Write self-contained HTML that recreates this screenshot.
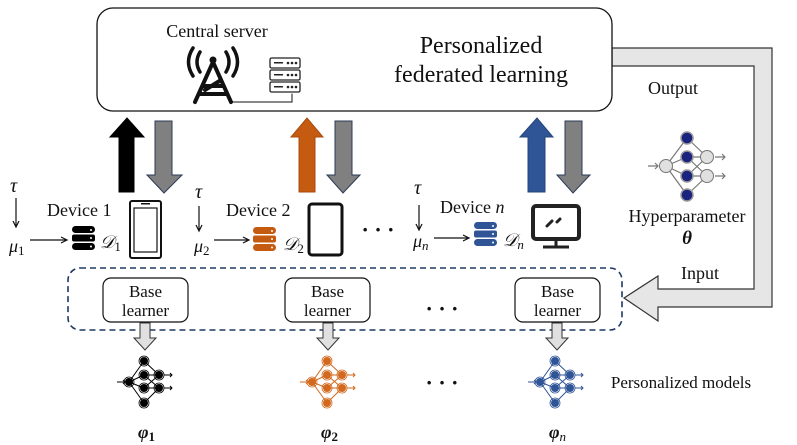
<!DOCTYPE html>
<html><head><meta charset="utf-8"><style>
html,body{margin:0;padding:0;background:#fff}
svg{display:block}
text{font-family:"Liberation Serif",serif;fill:#111}
</style></head><body>
<svg width="797" height="445" viewBox="0 0 797 445" xmlns="http://www.w3.org/2000/svg">
<defs>
<g id="nnh">
 <g stroke="#777" stroke-width="1.2" fill="none">
  <line x1="666" y1="166" x2="687" y2="138"/><line x1="666" y1="166" x2="687" y2="157"/><line x1="666" y1="166" x2="687" y2="176"/><line x1="666" y1="166" x2="687" y2="195"/>
  <line x1="687" y1="138" x2="707" y2="157"/><line x1="687" y1="157" x2="707" y2="157"/><line x1="687" y1="157" x2="707" y2="176"/><line x1="687" y1="176" x2="707" y2="157"/><line x1="687" y1="176" x2="707" y2="176"/><line x1="687" y1="195" x2="707" y2="176"/>
  <path d="M648 166h10M655 163l3 3-3 3M715 157h10M722 154l3 3-3 3M715 176h10M722 173l3 3-3 3"/>
 </g>
 <circle cx="666" cy="166" r="6.5" fill="#e0e0e0" stroke="#777"/>
 <circle cx="707" cy="157" r="6.5" fill="#e0e0e0" stroke="#777"/>
 <circle cx="707" cy="176" r="6.5" fill="#e0e0e0" stroke="#777"/>
 <g fill="#1a237e" stroke="#999" stroke-width="1.5">
 <circle cx="687" cy="138" r="6"/><circle cx="687" cy="157" r="6"/><circle cx="687" cy="176" r="6"/><circle cx="687" cy="195" r="6"/></g>
</g>
<g id="nns">
 <g stroke="currentColor" stroke-width="1" fill="none">
  <path d="M129 382L144 361M129 382L144 375M129 382L144 388M129 382L144 403M144 361L159 375M144 375L159 375M144 375L159 388M144 388L159 375M144 388L159 388M144 403L159 388"/>
  <path d="M117 382h8M123 380l2 2-2 2M164 375h8M170 373l2 2-2 2M164 388h8M170 386l2 2-2 2"/>
 </g>
 <g fill="currentColor" stroke="currentColor" stroke-width="1"><circle cx="129" cy="382" r="3.5"/><circle cx="144" cy="361" r="3.5"/><circle cx="144" cy="375" r="3.5"/><circle cx="144" cy="388" r="3.5"/><circle cx="144" cy="403" r="3.5"/><circle cx="159" cy="375" r="3.5"/><circle cx="159" cy="388" r="3.5"/></g>
 <g fill="none" stroke="currentColor" stroke-width="0.8"><circle cx="129" cy="382" r="5"/><circle cx="144" cy="361" r="5"/><circle cx="144" cy="375" r="5"/><circle cx="144" cy="388" r="5"/><circle cx="144" cy="403" r="5"/><circle cx="159" cy="375" r="5"/><circle cx="159" cy="388" r="5"/></g>
</g>
<g id="db">
 <rect x="0" y="0" width="23" height="7" rx="3.5"/><rect x="0" y="8.5" width="23" height="7" rx="2"/><rect x="0" y="17" width="23" height="7" rx="3.5"/>
 <g fill="#fff"><circle cx="19" cy="4" r="1"/><circle cx="19" cy="12" r="1"/><circle cx="19" cy="20.5" r="1"/></g>
</g>
</defs>

<path d="M612 48H772V307H658V321L624 298L658 276V289H754V66H612Z" fill="#e6e6e6" stroke="#333" stroke-width="1.2"/>
<rect x="97" y="8" width="515" height="103" rx="16" fill="#fff" stroke="#111" stroke-width="1.3"/>
<text x="217" y="37" font-size="18" text-anchor="middle">Central server</text>
<text x="481" y="53" font-size="24" text-anchor="middle">Personalized</text>
<text x="481" y="82" font-size="24" text-anchor="middle">federated learning</text>
<g stroke="#111" fill="none" stroke-linecap="round">
 <path d="M195 102L213 62L231 102M203 86L223 86M200 94L226 94M205 90L221 80" stroke-width="4"/>
 <path d="M200 52q-6 10 0 20M193 48q-9 14 0 28M226 52q6 10 0 20M233 48q9 14 0 28" stroke-width="3.5"/>
 <circle cx="213" cy="60" r="3" fill="#111"/>
 <path d="M232 102H292V94" stroke-width="1"/>
</g>
<g stroke="#222" stroke-width="1.3" fill="#fff">
 <rect x="270" y="58" width="30" height="10" rx="1.5"/><rect x="270" y="70" width="30" height="10" rx="1.5"/><rect x="270" y="82" width="30" height="10" rx="1.5"/>
</g>
<g fill="#222"><rect x="274" y="62" width="9" height="1.5"/><rect x="274" y="74" width="9" height="1.5"/><rect x="274" y="86" width="9" height="1.5"/>
<circle cx="288" cy="63" r="1.3"/><circle cx="292" cy="63" r="1.3"/><circle cx="296" cy="63" r="1.3"/>
<circle cx="288" cy="75" r="1.3"/><circle cx="292" cy="75" r="1.3"/><circle cx="296" cy="75" r="1.3"/>
<circle cx="288" cy="87" r="1.3"/><circle cx="292" cy="87" r="1.3"/><circle cx="296" cy="87" r="1.3"/></g>

<path d="M119 192V137H110L127 118L144 137H134V192Z" fill="#000" stroke="#000"/>
<path d="M155 121H172V175H182L164 193L147 175H155Z" fill="#808080" stroke="#2b3a55"/>
<path d="M299 192V137H291L307 118L323 137H315V192Z" fill="#c55a11" stroke="#a84a0c"/>
<path d="M335 121H352V175H360L343 193L327 175H335Z" fill="#808080" stroke="#2b3a55"/>
<path d="M528 192V137H520L537 118L553 137H545V192Z" fill="#2f5597" stroke="#24457a"/>
<path d="M565 121H582V175H590L573 193L557 175H565Z" fill="#808080" stroke="#2b3a55"/>

<text x="10" y="192" font-size="20" font-style="italic">τ</text>
<path d="M16 198V226M13 221l3 6 3-6" stroke="#111" fill="none" stroke-width="1.2"/>
<text x="9" y="252" font-size="18" font-style="italic">μ<tspan font-size="13" dy="3" font-style="normal">1</tspan></text>
<path d="M30 240H66M61 237l6 3-6 3" stroke="#111" fill="none" stroke-width="1.2"/>
<text x="47" y="216" font-size="18">Device 1</text>
<use href="#db" x="72" y="226" fill="#000"/>
<text x="100" y="248" font-size="18" font-style="italic">𝒟<tspan font-size="13" dy="3" font-style="normal">1</tspan></text>
<rect x="130" y="201" width="31" height="57" rx="2" fill="none" stroke="#111" stroke-width="2"/>
<rect x="134" y="208" width="23" height="44" fill="none" stroke="#111" stroke-width="1.2"/>
<rect x="141" y="203" width="9" height="1.5" fill="#111"/>

<text x="195" y="198" font-size="20" font-style="italic">τ</text>
<path d="M199 206V230M196 225l3 6 3-6" stroke="#111" fill="none" stroke-width="1.2"/>
<text x="194" y="252" font-size="18" font-style="italic">μ<tspan font-size="13" dy="3" font-style="normal">2</tspan></text>
<path d="M214 240H248M243 237l6 3-6 3" stroke="#111" fill="none" stroke-width="1.2"/>
<text x="226" y="216" font-size="18">Device 2</text>
<use href="#db" x="253" y="227" fill="#c55a11"/>
<text x="283" y="250" font-size="18" font-style="italic">𝒟<tspan font-size="13" dy="3" font-style="normal">2</tspan></text>
<rect x="309" y="204" width="33" height="51" rx="3" fill="none" stroke="#111" stroke-width="3"/>
<circle cx="325.5" cy="252" r="1.3" fill="#fff"/>
<text x="378" y="237" font-size="22" font-weight="bold" text-anchor="middle">· · ·</text>

<text x="414" y="194" font-size="20" font-style="italic">τ</text>
<path d="M419 205V229M416 224l3 6 3-6" stroke="#111" fill="none" stroke-width="1.2"/>
<text x="413" y="247" font-size="18" font-style="italic">μ<tspan font-size="13" dy="3">n</tspan></text>
<path d="M434 238H468M463 235l6 3-6 3" stroke="#111" fill="none" stroke-width="1.2"/>
<text x="440" y="213" font-size="18">Device <tspan font-style="italic">n</tspan></text>
<use href="#db" x="474" y="222" fill="#2f5597"/>
<text x="503" y="246" font-size="18" font-style="italic">𝒟<tspan font-size="13" dy="3">n</tspan></text>
<rect x="533" y="206" width="46" height="33" rx="3" fill="none" stroke="#222" stroke-width="4"/>
<path d="M556 239V246M543 247H569" stroke="#222" stroke-width="3"/>
<path d="M547 226l5-5M557 222l3-3" stroke="#222" stroke-width="3" stroke-linecap="round"/>

<use href="#nnh"/>
<text x="673" y="94" font-size="18" text-anchor="middle">Output</text>
<text x="687" y="222" font-size="18" text-anchor="middle">Hyperparameter</text>
<text x="687" y="244" font-size="19" font-weight="bold" font-style="italic" text-anchor="middle">θ</text>
<text x="700" y="279" font-size="18" text-anchor="middle">Input</text>

<rect x="68" y="268" width="554" height="62" rx="12" fill="none" stroke="#1f3864" stroke-width="1.6" stroke-dasharray="6,4"/>
<g fill="#fff" stroke="#111" stroke-width="1.2">
 <rect x="103" y="278" width="85" height="44" rx="8"/><rect x="285" y="278" width="85" height="44" rx="8"/><rect x="515" y="278" width="85" height="44" rx="8"/>
</g>
<g font-size="17" text-anchor="middle">
 <text x="145.5" y="297">Base</text><text x="145.5" y="316">learner</text>
 <text x="327.5" y="297">Base</text><text x="327.5" y="316">learner</text>
 <text x="557.5" y="297">Base</text><text x="557.5" y="316">learner</text>
</g>
<text x="442" y="316" font-size="22" font-weight="bold" text-anchor="middle">· · ·</text>
<g fill="#e0e0e0" stroke="#333" stroke-width="1">
 <path d="M140 323H150V338H156L145 350L134 338H140Z"/>
 <path d="M323 323H333V338H339L328 350L317 338H323Z"/>
 <path d="M552 323H562V338H568L557 350L546 338H552Z"/>
</g>
<use href="#nns" color="#000"/>
<use href="#nns" color="#d2691e" x="183"/>
<use href="#nns" color="#2f5597" x="411"/>
<text x="442" y="390" font-size="22" font-weight="bold" text-anchor="middle">· · ·</text>
<text x="681" y="388" font-size="17" text-anchor="middle">Personalized models</text>
<g font-size="18" font-weight="bold" font-style="italic">
 <text x="138" y="438">φ<tspan font-size="13" dy="3" font-style="normal">1</tspan></text>
 <text x="321" y="438">φ<tspan font-size="13" dy="3" font-style="normal">2</tspan></text>
 <text x="549" y="438">φ<tspan font-size="13" dy="3" font-weight="normal">n</tspan></text>
</g>
</svg>
</body></html>
